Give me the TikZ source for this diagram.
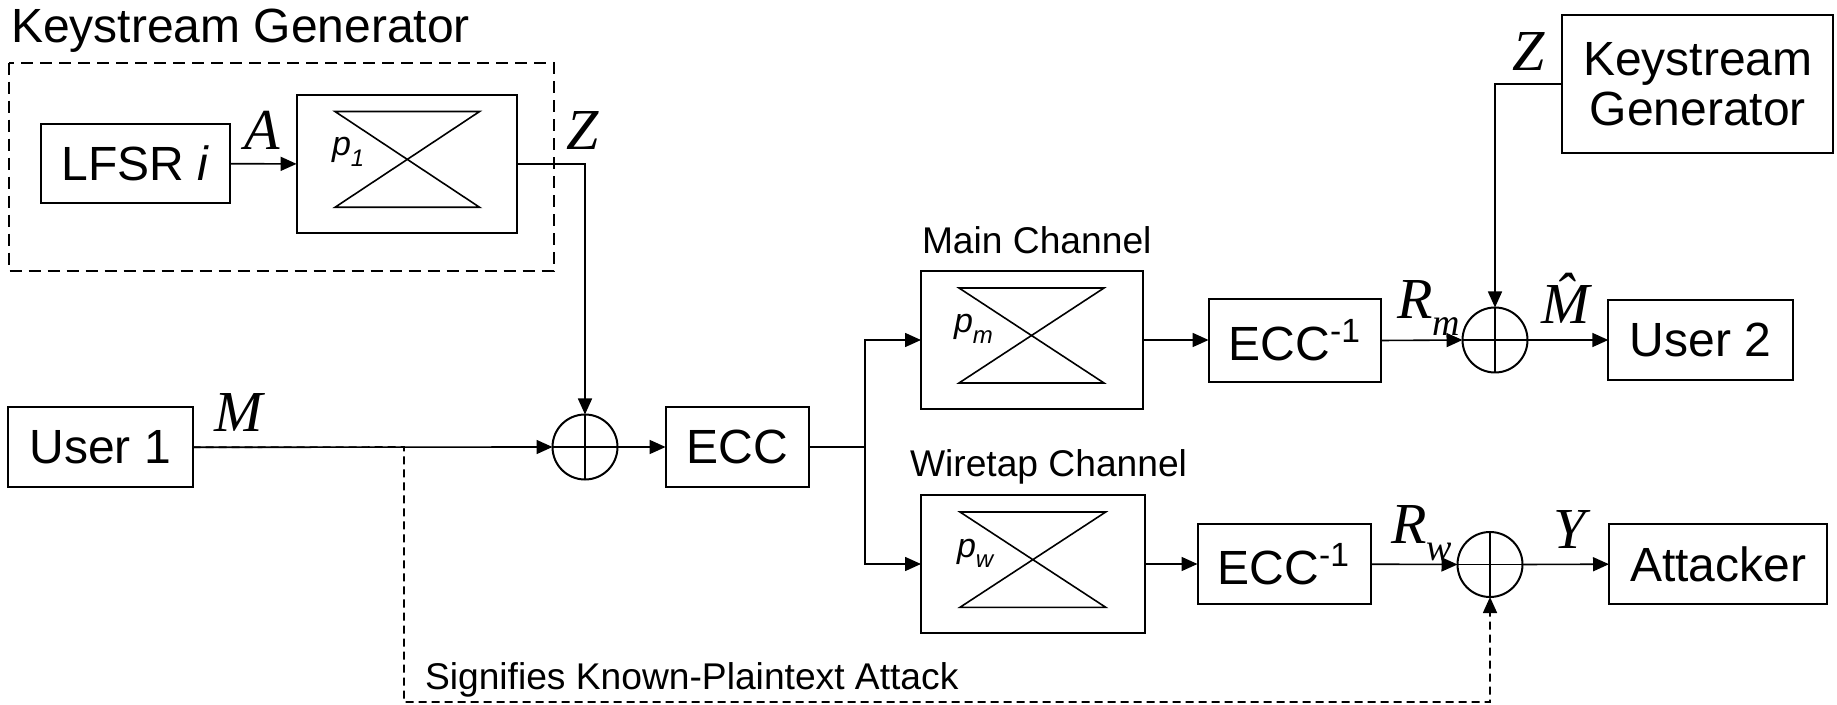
\documentclass[tikz,border=0pt]{standalone}
\usepackage{fontspec}
\setmainfont{Liberation Sans}
\newfontfamily\tms{Liberation Serif}
\usetikzlibrary{arrows.meta}
\newcommand\drawbowtie[4]{\draw[line width=0.8pt] (#1,#2) -- (#3,#2) -- (#1,#4) -- (#3,#4) -- cycle;}
\newcommand\xorcross[1]{\draw[line width=0.9pt] (#1.north) -- (#1.south) (#1.west) -- (#1.east);}
\begin{document}
\begin{tikzpicture}[x=0.5pt,y=-0.5pt,
 box/.style={draw, line width=1pt, inner sep=0pt, outer sep=0pt, font=\fontsize{24}{28}\selectfont, align=center},
 conn/.style={line width=0.8pt},
 arr/.style={conn, -{Triangle[length=8pt,width=7pt]}},
 xor/.style={draw, circle, line width=1pt, minimum size=32.5pt, inner sep=0pt, outer sep=0pt},
 lbl/.style={inner sep=0pt, outer sep=0pt, anchor=base west},
 mlab/.style={lbl, font=\tms\itshape\fontsize{29}{29}\selectfont},
 small/.style={lbl, font=\fontsize{18.6}{18.6}\selectfont},
 big/.style={lbl, font=\fontsize{24}{24}\selectfont},
 plab/.style={lbl, font=\itshape\fontsize{17}{17}\selectfont}]
\useasboundingbox (0,0) rectangle (1837,705);

% Keystream generator (left)
\node[big] (kgtitle) at (11,43) {Keystream Generator};
\draw[line width=1.1pt, dash pattern=on 6pt off 3.5pt] (8.7,62.7) rectangle (553.6,270.7);
\node[box, minimum width=94.4pt, minimum height=39.7pt] (lfsr) at (135.2,163.7) {LFSR \textit{i}};
\node[box, minimum width=110.2pt, minimum height=68.8pt] (p1) at (406.8,163.9) {};
\drawbowtie{335}{111.5}{479.6}{207.3}
\node[plab] (p1t) at (332,156) {p\raisebox{-0.3em}{\fontsize{12}{12}\selectfont 1}};
\node[mlab] (Alab) at (244,150) {A};
\node[mlab] (Zlab) at (566,150) {Z};

% User 1 and first XOR
\node[box, minimum width=92.2pt, minimum height=40pt] (u1) at (100.3,447.3) {User 1};
\node[mlab] (Mlab) at (214,431.7) {M};
\node[xor] (x1) at (585,447) {};
\xorcross{x1}
\node[box, minimum width=71.6pt, minimum height=40.3pt] (ecc) at (737.2,447) {ECC};

% channels
\node[small] (mct) at (922,253.3) {Main Channel};
\node[box, minimum width=111pt, minimum height=69pt] (main) at (1032,340) {};
\drawbowtie{959}{288}{1104}{383}
\node[plab] (pmt) at (954,333) {p\raisebox{-0.3em}{\fontsize{12}{12}\selectfont m}};
\node[small] (wct) at (910,476.7) {Wiretap Channel};
\node[box, minimum width=112pt, minimum height=69pt] (wire) at (1033,564) {};
\drawbowtie{960}{512}{1105.7}{607.3}
\node[plab] (pwt) at (957,557) {p\raisebox{-0.3em}{\fontsize{12}{12}\selectfont w}};

\node[box, minimum width=86.3pt, minimum height=41.2pt] (eccm) at (1294.9,340.5) {ECC\textsuperscript{-1}};
\node[box, minimum width=86.5pt, minimum height=40.2pt] (eccw) at (1284,564.2) {ECC\textsuperscript{-1}};

\node[xor] (x2) at (1495,340) {};
\xorcross{x2}
\node[xor] (x3) at (1490,564.5) {};
\xorcross{x3}

\node[mlab] (Rm) at (1397,318.3) {R\raisebox{-0.3em}{\fontsize{19}{19}\selectfont m}};
\node[mlab] (Rw) at (1391,543.3) {R\raisebox{-0.3em}{\fontsize{19}{19}\selectfont w}};
\node[mlab] (Mh) at (1541,323.3) {\^{M}};
\node[mlab] (Ylab) at (1553,548.3) {Y};

\node[box, minimum width=92.2pt, minimum height=40pt] (u2) at (1700.5,340) {User 2};
\node[box, minimum width=109.2pt, minimum height=39.9pt] (att) at (1718.2,564.2) {Attacker};
\node[box, minimum width=135.5pt, minimum height=68.8pt] (kg) at (1697.8,83.9) {Keystream\\[-3pt]Generator};
\node[mlab] (Z2lab) at (1512,70.7) {Z};

% connectors
\coordinate (sp) at (865,447);
\coordinate (tap) at (404,447);
\coordinate (bot) at (404,702);
\draw[arr] (lfsr.east) -- (p1.west);
\draw[arr] (p1.east) -| (x1.north);
\draw[arr] (u1.east) -- (x1.west);
\draw[arr] (x1.east) -- (ecc.west);
\draw[conn] (ecc.east) -- (sp);
\draw[arr] (sp) |- (main.west);
\draw[arr] (sp) |- (wire.west);
\draw[arr] (main.east) -- (main.east -| eccm.west);
\draw[arr] (wire.east) -- (wire.east -| eccw.west);
\draw[arr] (eccm.east) -- (x2.west);
\draw[arr] (eccw.east) -- (x3.west);
\draw[arr] (x2.east) -- (u2.west);
\draw[arr] (x3.east) -- (att.west);
\draw[arr] (kg.west) -| (x2.north);
\draw[line width=0.8pt, dash pattern=on 4pt off 2.5pt, -{Triangle[length=8pt,width=7pt]}] (u1.east) -- (tap) -- (bot) -| (x3.south);
\node[small] (kpa) at (425,689.3) {Signifies Known-Plaintext Attack};
\end{tikzpicture}
\end{document}
